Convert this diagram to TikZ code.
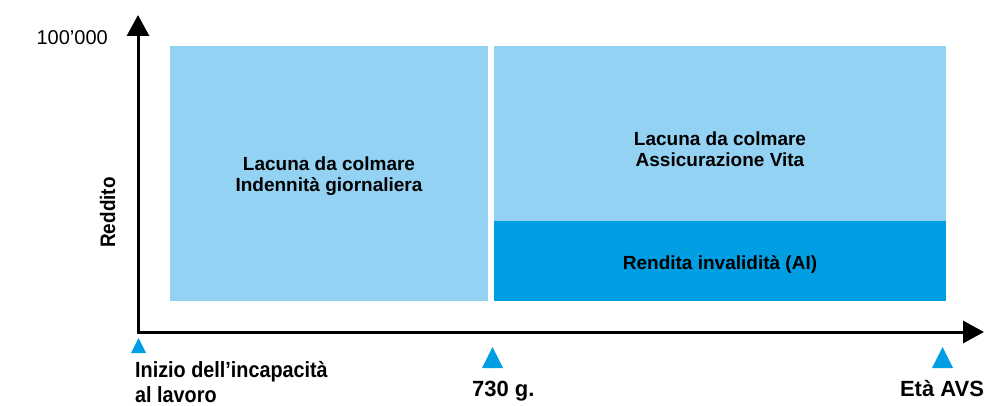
\documentclass[tikz,border=0pt]{standalone}
\usepackage{fontspec}
\setmainfont{Liberation Sans}
\newfontfamily\condfont[FakeStretch=0.9]{Liberation Sans}
\usetikzlibrary{positioning, arrows.meta}

\definecolor{lacuna}{HTML}{93D2F3}
\definecolor{rendita}{HTML}{009EE2}

\tikzset{
  bar/.style={fill=lacuna, draw=none, inner sep=0pt, anchor=north west},
  inlabel/.style={font=\fontsize{19}{21}\selectfont\bfseries, align=center, inner sep=0pt},
  axlabel/.style={font=\fontsize{22}{25}\selectfont\bfseries, inner sep=0pt},
  narrow/.style={font=\condfont\fontsize{22}{25}\selectfont\bfseries},
  axis/.style={line width=3pt, line join=miter,
    {Triangle[width=22pt,length=21pt]}-{Triangle[width=22pt,length=21pt]}},
}

\begin{document}
\begin{tikzpicture}[x=1pt,y=-1pt]
        \useasboundingbox (0,0) rectangle (990,406);
        % blocchi
        \node[bar, minimum width=318pt, minimum height=255pt] (ig) at (170,46) {};
        \node[bar, minimum width=452pt, minimum height=175pt] (vita) at (494,46) {};
        \node[bar, fill=rendita, minimum width=452pt, minimum height=80pt] (ai) at (494,221) {};
        \node[inlabel, anchor=north] (t_ig) at (329,157) {Lacuna da colmare\\Indennità giornaliera};
        \node[inlabel, anchor=north] (t_vita) at (720,132) {Lacuna da colmare\\Assicurazione Vita};
        \node[inlabel, anchor=base] (t_ai) at (720,269) {Rendita invalidità (AI)};
        % assi
        \coordinate (o) at (138,332);
        \coordinate (ytop) at (138,15);
        \coordinate (xend) at (984,332);
        \draw[axis] (ytop) -- (o) -- (xend);
        \node[font=\fontsize{20}{24}\selectfont, anchor=base east, inner sep=0pt] (ymax) at (108,45) {100’000};
        \node[axlabel, font=\condfont\fontsize{21}{25}\selectfont\bfseries, rotate=90, anchor=base] (reddito) at (115,212.5) {Reddito};
        % tacche
        \foreach \x/\w/\ya/\yb in {138.5/7.5/338/353, 492.5/10.5/347/368, 942.5/10.5/347/368}
          \fill[rendita] (\x-\w,\yb) -- (\x,\ya) -- (\x+\w,\yb) -- cycle;
        \node[axlabel, narrow, anchor=north west, align=left] (inizio) at (135,361.5) {Inizio dell’incapacità\\al lavoro};
        \node[axlabel, anchor=base west] (g730) at (472,396) {730 g.};
        \node[axlabel, anchor=base] (avs) at (942,396) {Età AVS};
\end{tikzpicture}
\end{document}
